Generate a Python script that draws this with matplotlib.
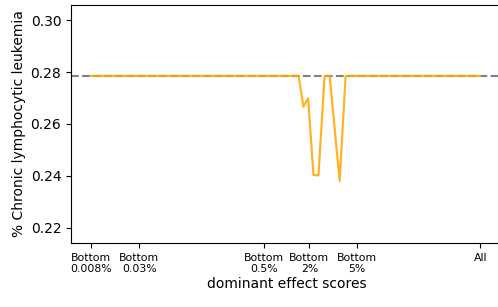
import matplotlib
matplotlib.use("Agg")
import matplotlib.pyplot as plt

# data (x in relative position units along the score axis)
x_vals = [0.0, 53.34, 54.58, 55.78, 57.15, 58.43, 60.03, 61.31, 63.88, 65.42, 100.0]
y_vals = [0.2785, 0.2785, 0.2667, 0.2699, 0.2404, 0.2402, 0.2785, 0.2785, 0.2381, 0.2785, 0.2785]
baseline = 0.2786
tick_pos = [0.0, 12.42, 44.47, 56.12, 68.30, 100.0]
tick_labels = ["Bottom\n0.008%", "Bottom\n0.03%", "Bottom\n0.5%", "Bottom\n2%", "Bottom\n5%", "All"]
y_ticks = [0.22, 0.24, 0.26, 0.28, 0.30]

fig = plt.figure(figsize=(4.98, 3.07), dpi=100)
ax = fig.add_axes([71/498, 64/307, 431/498, (243-4.7)/307])

ax.axhline(baseline, color="gray", linestyle="--", linewidth=1.5, zorder=1)
ax.plot(x_vals, y_vals, color="orange", linewidth=1.6, alpha=0.85, zorder=2)

ax.spines["right"].set_visible(False)
ax.set_xlim(-5.14, 105.6)
ax.set_ylim(0.2142, 0.3059)
ax.set_yticks(y_ticks)
ax.set_yticklabels([f"{v:.2f}" for v in y_ticks], fontsize=10)
ax.set_xticks(tick_pos)
ax.set_xticklabels(tick_labels, fontsize=7.8)
ax.set_xlabel("dominant effect scores", fontsize=10, labelpad=2)
ax.set_ylabel("% Chronic lymphocytic leukemia", fontsize=10, labelpad=3)

fig.savefig("out.png", dpi=100)
